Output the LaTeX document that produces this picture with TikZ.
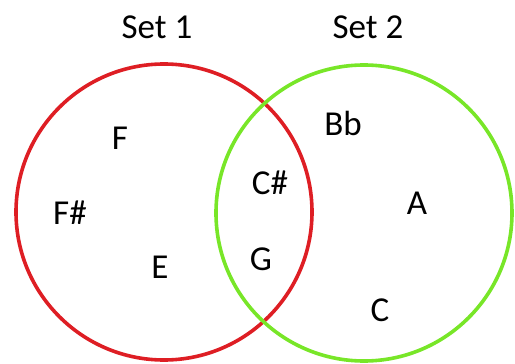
\documentclass[tikz,border=0pt]{standalone}
\usepackage{fontspec}
\setmainfont{Carlito}
\definecolor{setred}{RGB}{222,30,36}
\definecolor{setgreen}{RGB}{120,230,40}
\tikzset{
  setcircle/.style={line width=3.6pt},
  lbl/.style={inner sep=0pt, font=\fontsize{35}{40}\selectfont}
}
\begin{document}
\begin{tikzpicture}[x=1pt,y=-1pt]
\useasboundingbox (0,0) rectangle (515,364);
\draw[setcircle, setred] (164,212) circle[radius=148];
\draw[setcircle, setgreen] (364,213) circle[radius=148];
\node[lbl] (s1) at (157,27) {Set 1};
\node[lbl] (s2) at (368,27) {Set 2};
\node[lbl] (f) at (120,138) {F};
\node[lbl] (fs) at (70,213) {F\#};
\node[lbl] (e) at (160,267) {E};
\node[lbl] (cs) at (270,183) {C\#};
\node[lbl] (g) at (261,259) {G};
\node[lbl] (bb) at (343,123) {Bb};
\node[lbl] (a) at (417,203) {A};
\node[lbl] (c) at (380,310) {C};
\end{tikzpicture}
\end{document}
